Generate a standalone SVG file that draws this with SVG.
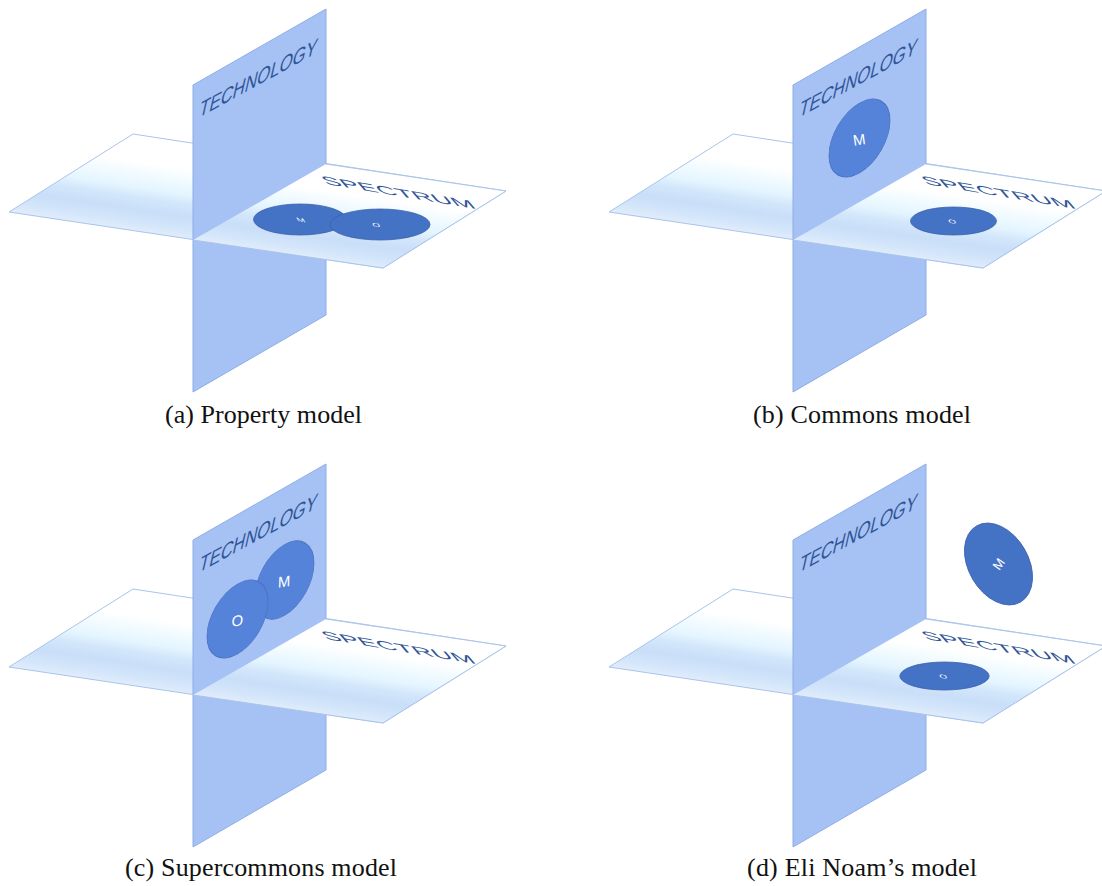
<svg xmlns="http://www.w3.org/2000/svg" width="1102" height="886" viewBox="0 0 1102 886">
  <style>
    .vplane { fill: #a6c1f4; stroke: #8eaee6; stroke-width: 1; }
    .hplane { fill: url(#hgrad); stroke: #a9c4ea; stroke-width: 1; }
    .hfill { fill: url(#hgrad); stroke: none; }
    .hedge { fill: none; stroke: #a9c4ea; stroke-width: 1; }
    .axis { font-family: "Liberation Sans", Arial, sans-serif; fill: #2f5597; }
    .disc { fill: #4472c4; stroke: #3a62ab; stroke-width: 0.8; }
    .disc-v { fill: #5583da; stroke: #4a72c0; stroke-width: 0.8; }
    .mark { font-family: "Liberation Sans", Arial, sans-serif; fill: #ffffff; text-anchor: middle; }
    .caption { font-family: "Liberation Serif", "Times New Roman", serif; font-size: 26px; fill: #111111; }
  </style>
  <defs>
    <!-- shading of the horizontal sheet, running from its front edge to its back edge -->
    <linearGradient id="hgrad" gradientUnits="userSpaceOnUse" x1="196" y1="240" x2="210.5" y2="145.4">
      <stop offset="0" stop-color="#e0ecfb"/>
      <stop offset="0.1" stop-color="#d2e5fa"/>
      <stop offset="0.22" stop-color="#c9def8"/>
      <stop offset="0.35" stop-color="#d3e7fb"/>
      <stop offset="0.45" stop-color="#e4f5ff"/>
      <stop offset="0.6" stop-color="#f2fbff"/>
      <stop offset="0.72" stop-color="#ffffff"/>
      <stop offset="1" stop-color="#ffffff"/>
    </linearGradient>
    <!-- whole spectrum sheet (its rear half ends up behind the technology wall) -->
    <path id="h-full" class="hplane" d="M9,212 L133,134 L506,191 L383,268 Z"/>
    <!-- technology wall with its label -->
    <g id="v-wall">
      <path class="vplane" d="M193,85 L326,9 L326,315 L193,392 Z"/>
      <text class="axis" font-size="20" transform="matrix(0.84,-0.46,-0.26,1.15,198,118)">TECHNOLOGY</text>
    </g>
    <!-- front half of the spectrum sheet, lying over the lower wall, with its label -->
    <g id="h-front">
      <path class="hfill" d="M193,240 L326,164 L506,191 L383,268 Z"/>
      <path class="hedge" d="M326,164 L506,191 L383,268 L193,240"/>
      <text class="axis" font-size="18" transform="matrix(1.5,0.25,0.58,0.68,326,184)">SPECTRUM</text>
    </g>
  </defs>

  <!-- (a) Property model -->
  <g id="panel-a">
    <use href="#h-full"/>
    <use href="#v-wall"/>
    <use href="#h-front"/>
    <g id="a-disc-m">
      <ellipse class="disc" cx="300" cy="219.5" rx="46.5" ry="15.5"/>
      <text class="mark" font-size="11" transform="matrix(0.9,0.14,0.35,0.5,302,222)">M</text>
    </g>
    <g id="a-disc-o">
      <ellipse class="disc" cx="380" cy="224.5" rx="50" ry="15.5"/>
      <text class="mark" font-size="10" transform="matrix(1,0.12,0.2,0.55,377,227)">O</text>
    </g>
    <text id="a-caption" class="caption" x="165" y="423" textLength="197" lengthAdjust="spacing">(a) Property model</text>
  </g>

  <!-- (b) Commons model -->
  <g id="panel-b" transform="translate(600,0)">
    <use href="#h-full"/>
    <use href="#v-wall"/>
    <g id="b-disc-m">
      <ellipse class="disc-v" cx="0" cy="0" rx="30.5" ry="34.9" transform="translate(259.5,138) skewY(-29.7)"/>
      <text class="mark" font-size="15" transform="translate(260,145) rotate(-8)">M</text>
    </g>
    <use href="#h-front"/>
    <g id="b-disc-o">
      <ellipse class="disc" cx="353.5" cy="221" rx="43" ry="14"/>
      <text class="mark" font-size="10" transform="matrix(1,0.12,0.2,0.55,353,223.5)">O</text>
    </g>
    <text id="b-caption" class="caption" x="153" y="423" textLength="218" lengthAdjust="spacing">(b) Commons model</text>
  </g>

  <!-- (c) Supercommons model -->
  <g id="panel-c" transform="translate(0,455)">
    <use href="#h-full"/>
    <use href="#v-wall"/>
    <g id="c-disc-m">
      <ellipse class="disc-v" cx="0" cy="0" rx="29.5" ry="35.3" transform="translate(284.5,125) skewY(-29.7)"/>
      <text class="mark" font-size="15" transform="translate(284,132) rotate(-8) skewX(-10)">M</text>
    </g>
    <g id="c-disc-o">
      <ellipse class="disc-v" cx="0" cy="0" rx="30.5" ry="34.9" transform="translate(237.5,164) skewY(-29.7)"/>
      <text class="mark" font-size="15" transform="translate(237,171) rotate(-8) skewX(-12)">O</text>
    </g>
    <use href="#h-front"/>
    <text id="c-caption" class="caption" x="125" y="421" textLength="272" lengthAdjust="spacing">(c) Supercommons model</text>
  </g>

  <!-- (d) Eli Noam's model -->
  <g id="panel-d" transform="translate(600,455)">
    <use href="#h-full"/>
    <use href="#v-wall"/>
    <use href="#h-front"/>
    <g id="d-disc-o">
      <ellipse class="disc" cx="344.5" cy="221" rx="44.7" ry="14"/>
      <text class="mark" font-size="10" transform="matrix(1,0.12,0.2,0.55,344,223.5)">O</text>
    </g>
    <g id="d-disc-m">
      <ellipse class="disc" cx="0" cy="0" rx="30" ry="44" transform="translate(398.5,109) rotate(-30)"/>
      <text class="mark" font-size="13" transform="translate(398.5,109) rotate(-55) translate(0,4.6)">M</text>
    </g>
    <text id="d-caption" class="caption" x="147" y="421" textLength="230" lengthAdjust="spacing">(d) Eli Noam’s model</text>
  </g>
</svg>
